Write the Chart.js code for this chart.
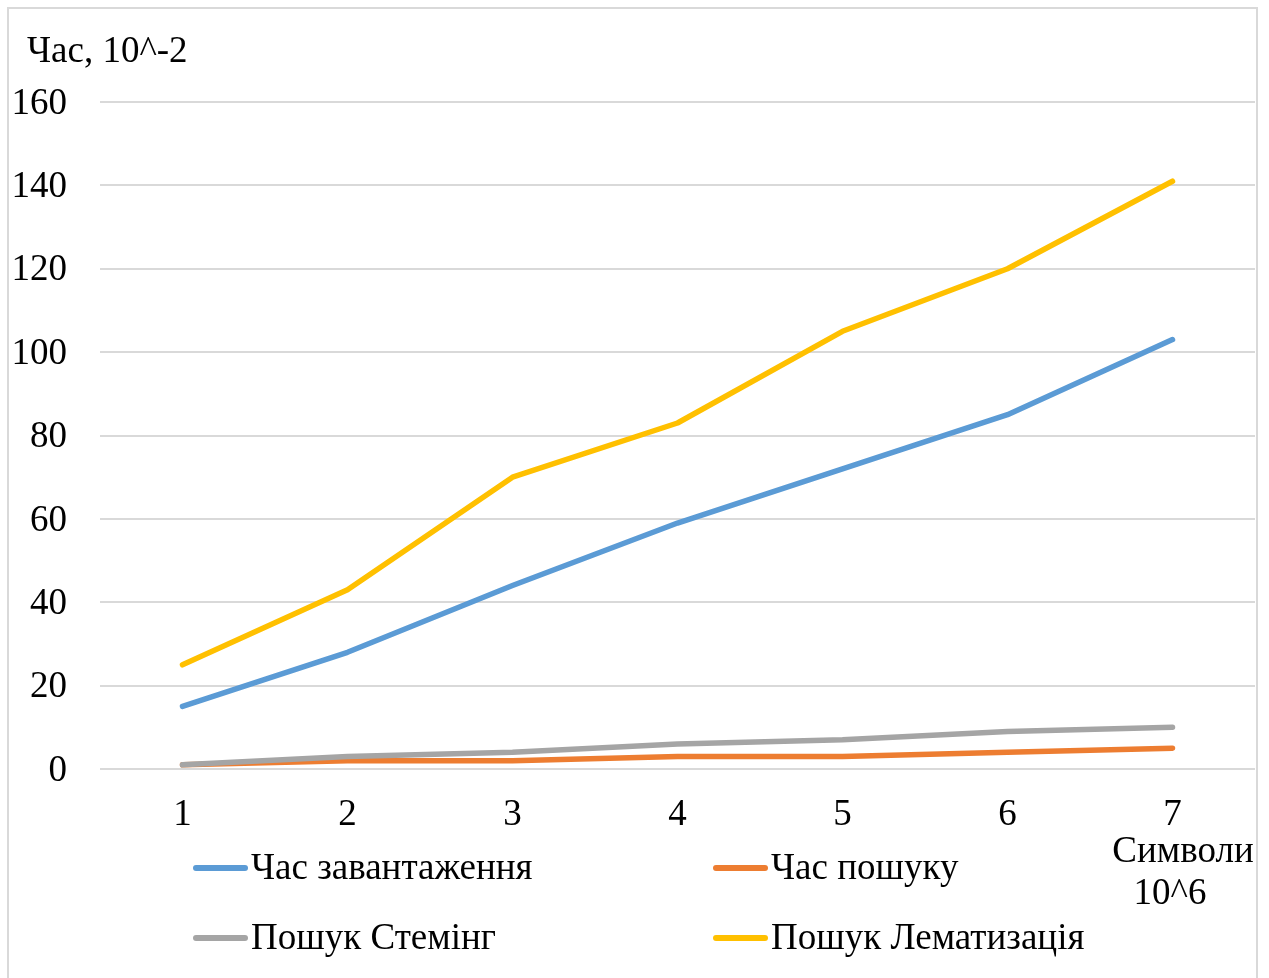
<!DOCTYPE html>
<html>
<head>
<meta charset="utf-8">
<script src="https://cdn.jsdelivr.net/npm/chart.js@4/dist/chart.umd.min.js"></script>
<style>
  body { margin: 0; background: #fff; }
  #wrap { position: relative; width: 1269px; height: 978px; }
  #frame {
    position: absolute; left: 7px; top: 7px; width: 1247px; height: 990px;
    border: 2px solid #d9d9d9; pointer-events: none;
  }
  canvas { position: absolute; left: 0; top: 0; }
</style>
</head>
<body>
<div id="wrap">
  <canvas id="chart" width="1269" height="978"></canvas>
  <div id="frame"></div>
</div>
<script>
const categories = ["1", "2", "3", "4", "5", "6", "7"];

const loadTime = [15, 28, 44, 59, 72, 85, 103];
const searchTime = [1, 2, 2, 3, 3, 4, 5];
const stemSearch = [1, 3, 4, 6, 7, 9, 10];
const lemmaSearch = [25, 43, 70, 83, 105, 120, 141];

const seriesNames = ["Час завантаження", "Час пошуку", "Пошук Стемінг", "Пошук Лематизація"];
const seriesColors = ["#5B9BD5", "#ED7D31", "#A5A5A5", "#FFC000"];

const yTitle = "Час, 10^-2";
const xTitle = ["Символи", "10^6"];

const FONT = "'Liberation Serif', 'Times New Roman', serif";
const FS = 37;

// title, x-axis caption and the two-column legend
const extras = {
  id: "extras",
  afterDraw(chart) {
    const ctx = chart.ctx;
    ctx.save();
    ctx.font = FS + "px " + FONT;
    ctx.fillStyle = "#000";

    ctx.textAlign = "left";
    ctx.textBaseline = "alphabetic";
    ctx.fillText(yTitle, 27, 62);

    ctx.textAlign = "center";
    ctx.textBaseline = "middle";
    ctx.fillText(xTitle[0], 1183, 852);
    ctx.fillText(xTitle[1], 1170, 894);

    // legend
    const cols = [193, 713];
    const rows = [869, 939];
    chart.data.datasets.forEach((ds, i) => {
      const x = cols[i % 2];
      const y = rows[Math.floor(i / 2)];
      ctx.strokeStyle = ds.borderColor;
      ctx.lineWidth = 6;
      ctx.lineCap = "round";
      ctx.beginPath();
      ctx.moveTo(x + 3, y - 1);
      ctx.lineTo(x + 52, y - 1);
      ctx.stroke();
      ctx.textAlign = "left";
      ctx.textBaseline = "middle";
      ctx.fillText(ds.label, x + 58, y);
    });
    ctx.restore();
  }
};

const datasets = [loadTime, searchTime, stemSearch, lemmaSearch].map((vals, i) => ({
  label: seriesNames[i],
  data: vals,
  borderColor: seriesColors[i],
  backgroundColor: seriesColors[i],
  borderWidth: 5.5,
  borderCapStyle: "round",
  borderJoinStyle: "round",
  pointRadius: 0,
  tension: 0,
  order: 4 - i
}));

new Chart(document.getElementById("chart"), {
  type: "line",
  data: { labels: categories, datasets: datasets },
  options: {
    responsive: false,
    animation: false,
    layout: { padding: { top: 102, right: 14, bottom: 149, left: 0 } },
    plugins: {
      legend: { display: false },
      tooltip: { enabled: false }
    },
    scales: {
      x: {
        offset: true,
        grid: { display: false, drawTicks: false },
        border: { display: false },
        ticks: { color: "#000", font: { family: FONT, size: FS }, padding: 24, maxRotation: 0 },
        afterFit(scale) { scale.height = 60; }
      },
      y: {
        min: 0,
        max: 160,
        grid: { color: "#d9d9d9", lineWidth: 2, drawTicks: false },
        border: { display: false },
        ticks: { stepSize: 20, color: "#000", font: { family: FONT, size: FS }, padding: 33, labelOffset: 2 },
        afterFit(scale) { scale.width = 100; }
      }
    }
  },
  plugins: [extras]
});
</script>
</body>
</html>
